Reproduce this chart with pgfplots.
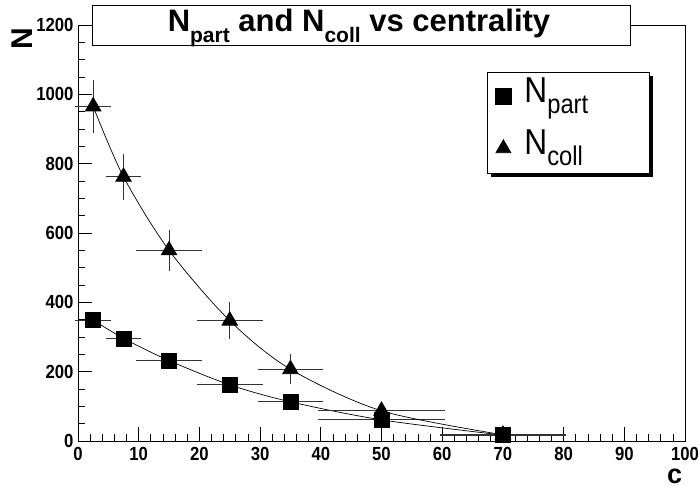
\documentclass[border=0pt]{standalone}
\usepackage{fontspec}
\setmainfont{Liberation Sans}
\usepackage{pgfplots}
\pgfplotsset{compat=1.18}
\usetikzlibrary{shadows}
\newcommand{\nar}[1]{\scalebox{0.88}[1]{#1}}
\begin{document}
\begin{tikzpicture}[x=1pt,y=1pt]
\useasboundingbox (0,0) rectangle (699,487);
\begin{axis}[
  at={(78pt,46pt)}, anchor=south west,
  scale only axis, width=607pt, height=416pt,
  xmin=0, xmax=100, ymin=0, ymax=1200,
  axis line style={black, line width=0.8pt},
  xtick={0,10,...,100}, minor x tick num=4,
  ytick={0,200,...,1200}, minor y tick num=3,
  tick align=inside, tickpos=left,
  major tick length=14pt, minor tick length=7pt,
  every tick/.style={black, line width=0.7pt},
  ticklabel style={font=\bfseries\fontsize{19}{19}\selectfont},
  xticklabel={\nar{\pgfmathprintnumber{\tick}}},
  yticklabel={\nar{\pgfmathprintnumber{\tick}}},
  xticklabel style={yshift=-3pt},
  yticklabel style={xshift=-1pt},
  /pgf/number format/assume math mode=true,
  /pgf/number format/1000 sep={},
  xlabel={c}, ylabel={N},
  xlabel style={at={(rel axis cs:0.983,-0.084)}, anchor=center, font=\bfseries\fontsize{27}{27}\selectfont},
  ylabel style={at={(rel axis cs:-0.092,0.968)}, anchor=center, rotate=0, font=\bfseries\fontsize{30}{30}\selectfont},
  legend style={at={(rel axis cs:0.674,0.888)}, anchor=north west, draw=black, fill=white, line width=0.6pt,
    drop shadow={shadow xshift=4pt, shadow yshift=-4pt, opacity=1, fill=black},
    inner xsep=8pt, inner ysep=1pt, row sep=5pt, column sep=11pt,
    nodes={inner sep=2pt, text height=28pt, text depth=15pt}},
  legend cell align=left,
  legend image code/.code={\draw[#1] plot coordinates {(0.45cm,0cm)};},
  clip=false,
]
\addplot[black, line width=0.7pt, smooth, mark=square*, mark size=7.5pt, forget plot,
  error bars/.cd, x dir=both, x explicit, y dir=both, y explicit,
  error bar style={line width=0.8pt, black!80},
  error mark options={mark size=2.5pt, line width=0.8pt, black!80}]
  table[x=x, y=y, x error=ex, y error=ey] {
x ex y ey
2.5 2.5 349 12
7.5 2.5 296 12
15 5 232 12
25 5 162 10
35 5 113 10
50 10 61 8
70 10 17 5
};
\addplot[black, line width=0.7pt, smooth, mark=triangle*, mark size=9pt, forget plot,
  error bars/.cd, x dir=both, x explicit, y dir=both, y explicit,
  error bar style={line width=0.8pt, black!80},
  error mark options={mark size=2.5pt, line width=0.8pt, black!80}]
  table[x=x, y=y, x error=ex, y error=ey] {
x ex y ey
2.5 2.5 965 68
7.5 2.5 762 60
15 5 550 51
25 5 347 46
35 5 207 36
50 10 87 15
70 10 18 5
};
\addlegendimage{only marks, black, mark=square*, mark size=8pt}
\addlegendentry{\makebox[115pt][l]{\nar{\fontsize{36}{36}\selectfont N}\raisebox{-11pt}{\nar{\fontsize{27}{27}\selectfont part}}}}
\addlegendimage{only marks, black, mark=triangle*, mark size=8.7pt}
\addlegendentry{\makebox[115pt][l]{\nar{\fontsize{36}{36}\selectfont N}\raisebox{-11pt}{\nar{\fontsize{27}{27}\selectfont coll}}}}
\end{axis}
\draw[fill=white, line width=0.8pt] (92,442) rectangle (630,482);
\node[font=\bfseries\fontsize{31}{31}\selectfont, anchor=base, inner sep=0pt] at (359,455) {N\raisebox{-11pt}{\fontsize{21}{21}\selectfont part} and N\raisebox{-11pt}{\fontsize{21}{21}\selectfont coll} vs centrality};
\end{tikzpicture}
\end{document}
